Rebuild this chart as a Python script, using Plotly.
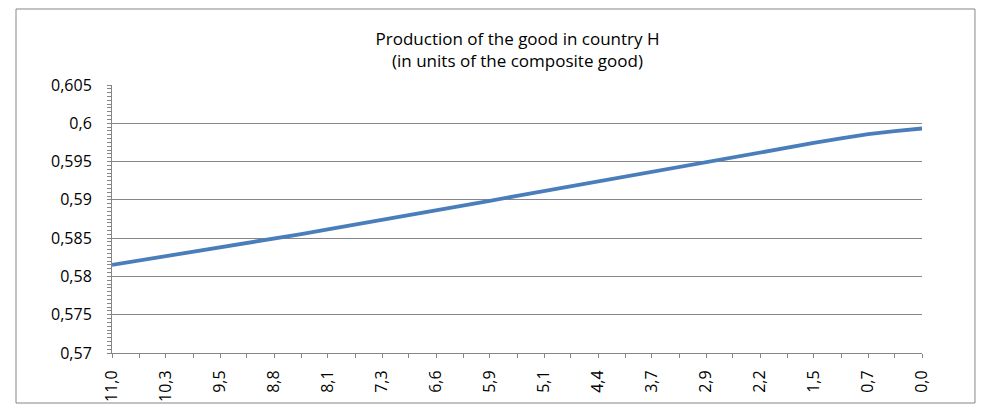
import plotly.graph_objects as go

x_vals = [11.00, 10.63, 10.27, 9.90, 9.53, 9.17, 8.80, 8.43, 8.07, 7.70, 7.33,
          6.97, 6.60, 6.23, 5.87, 5.50, 5.13, 4.77, 4.40, 4.03, 3.67, 3.30,
          2.93, 2.57, 2.20, 1.83, 1.47, 1.10, 0.73, 0.37, 0.00]
production = [0.58150, 0.58207, 0.58263, 0.58320, 0.58377, 0.58435, 0.58493,
              0.58553, 0.58614, 0.58675, 0.58737, 0.58799, 0.58862, 0.58925,
              0.58988, 0.59051, 0.59115, 0.59179, 0.59243, 0.59307, 0.59371,
              0.59435, 0.59498, 0.59560, 0.59622, 0.59683, 0.59743, 0.59802,
              0.59860, 0.59897, 0.59932]
y_ticks = [0.57, 0.575, 0.58, 0.585, 0.59, 0.595, 0.6, 0.605]
y_labels = ["0,57", "0,575", "0,58", "0,585", "0,59", "0,595", "0,6", "0,605"]
x_labels = [f"{v:.1f}".replace(".", ",") if i % 2 == 0 else "" for i, v in enumerate(x_vals)]

AXIS = "#868686"
BLUE = "#4A7EBB"
FONT = "Open Sans, sans-serif"

fig = go.Figure()
fig.add_trace(go.Scatter(x=x_vals, y=production, mode="lines",
                         line=dict(color=BLUE, width=3.8), showlegend=False,
                         hoverinfo="x+y"))

xaxis_common = dict(range=[11, 0], tickmode="array", tickvals=x_vals,
                    showgrid=False, zeroline=False, showline=True, automargin=False,
                    linecolor=AXIS, linewidth=1, tickcolor=AXIS, ticklen=4)
yaxis_common = dict(range=[0.57, 0.605], tickmode="array", tickvals=y_ticks,
                    zeroline=False, showline=True, linecolor=AXIS, linewidth=1,
                    automargin=False, tickcolor=AXIS, ticklen=4)

fig.update_layout(
    width=982, height=406,
    paper_bgcolor="white", plot_bgcolor="white",
    margin=dict(l=112, r=60, t=85, b=53),
    font=dict(family=FONT, color="#000000", size=16),
    title=dict(text="Production of the good in country H<br>(in units of the composite good)",
               x=0.527, xanchor="center", y=0.89, yanchor="top",
               font=dict(family=FONT, size=17, color="#000000")),
    xaxis=dict(**xaxis_common, ticks="outside", ticktext=x_labels, tickangle=-90,
               ticklabelstandoff=6, tickfont=dict(size=16)),
    yaxis=dict(**yaxis_common, ticks="outside", ticktext=y_labels,
               showgrid=True, gridcolor=AXIS, gridwidth=1,
               ticklabelstandoff=12, tickfont=dict(size=16),
               minor=dict(dtick=0.0005, tick0=0.57, ticks="outside", ticklen=4,
                          tickcolor=AXIS, showgrid=False)),
    # mirror axes with inside ticks so the tick marks cross the axis line
    xaxis2=dict(**xaxis_common, overlaying="x", matches="x", ticks="inside",
                ticktext=[""] * len(x_vals), side="bottom", anchor="y2"),
    yaxis2=dict(**yaxis_common, overlaying="y", matches="y", ticks="inside",
                ticktext=[""] * len(y_ticks), showgrid=False, side="left", anchor="x2",
                minor=dict(dtick=0.0005, tick0=0.57, ticks="inside", ticklen=4,
                           tickcolor=AXIS, showgrid=False)),
    shapes=[dict(type="rect", xref="paper", yref="paper",
                 x0=-0.1185, x1=1.0654, y0=-0.1866, y1=1.2836,
                 line=dict(color=AXIS, width=1), fillcolor="rgba(0,0,0,0)")],
)

fig.write_html("out.html", config={"displayModeBar": False},
               post_script="document.body.style.margin='0px';")
